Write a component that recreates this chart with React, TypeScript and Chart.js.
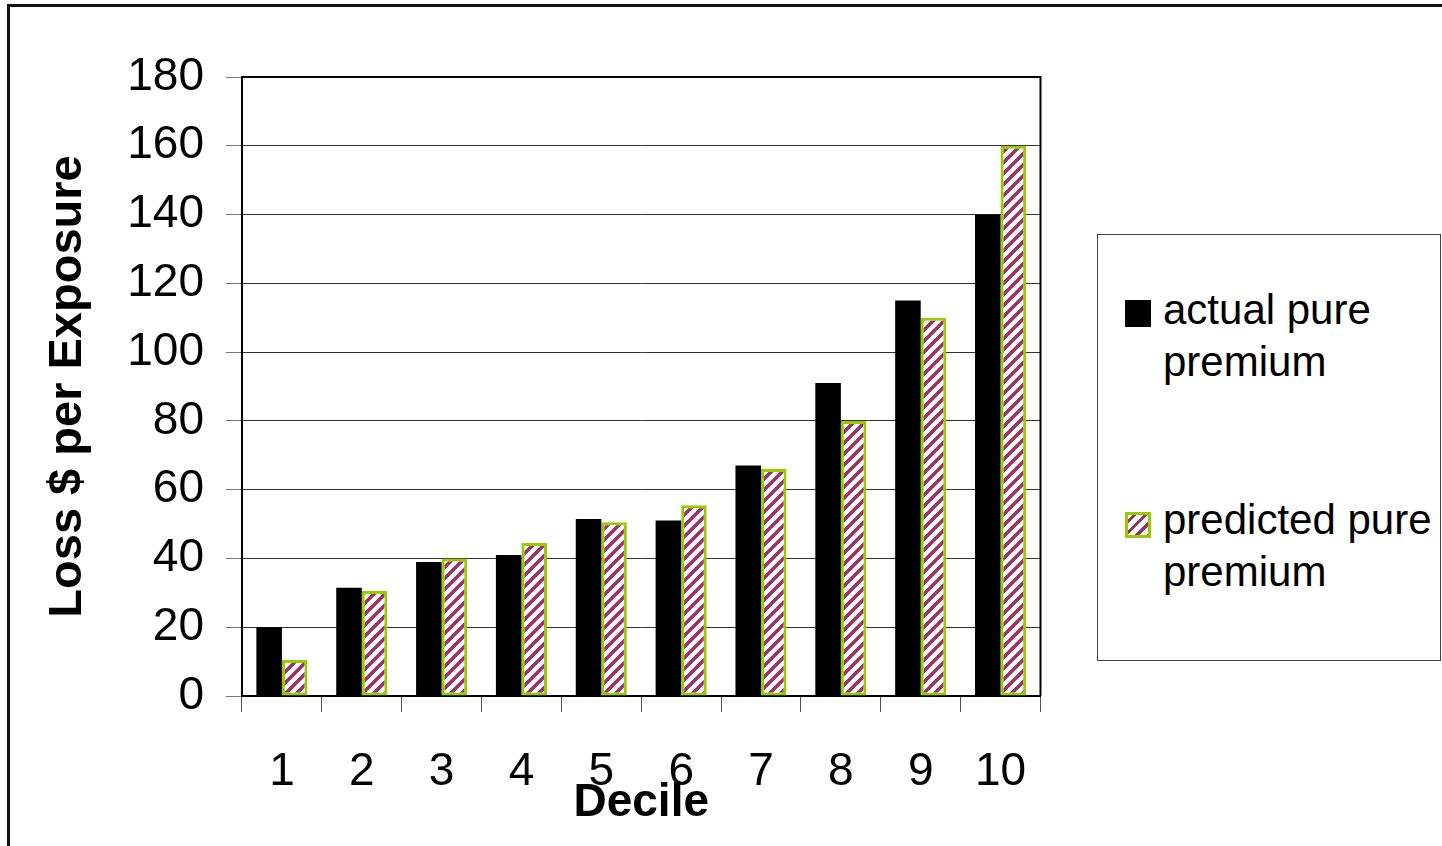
import React, { useEffect, useRef } from "react";
import { Chart, registerables } from "chart.js";

Chart.register(...registerables);

// Pure premium by decile of predicted loss
const deciles = ["1", "2", "3", "4", "5", "6", "7", "8", "9", "10"];
const actualPurePremium = [20, 31.5, 39, 41, 51.5, 51, 67, 91, 115, 140];
const predictedPurePremium = [10.5, 30.5, 40, 44.5, 50.5, 55.5, 66, 80, 110, 160];
const seriesLabels = [
  ["actual pure", "premium"],
  ["predicted pure", "premium"],
];
const yMin = 0;
const yMax = 180;
const yStep = 20;

const FONT = "'Liberation Sans', Arial, Helvetica, sans-serif";
const STRIPE = "#993366";
const GREEN = "#99CC00";

function makeStripePattern(ctx: CanvasRenderingContext2D): CanvasPattern | string {
  const size = 11;
  const tile = document.createElement("canvas");
  tile.width = size;
  tile.height = size;
  const g = tile.getContext("2d");
  if (!g) return STRIPE;
  g.fillStyle = "#ffffff";
  g.fillRect(0, 0, size, size);
  g.strokeStyle = STRIPE;
  g.lineWidth = 3.6;
  g.beginPath();
  g.moveTo(-3, size + 3);
  g.lineTo(size + 3, -3);
  g.moveTo(-4, 4);
  g.lineTo(4, -4);
  g.moveTo(size - 4, size + 4);
  g.lineTo(size + 4, size - 4);
  g.stroke();
  return ctx.createPattern(tile, "repeat") || STRIPE;
}

// Top and right edges of the plot area
const plotFrame = {
  id: "plotFrame",
  afterDraw(chart: any) {
    const { ctx, chartArea } = chart;
    const { left, top, right, bottom } = chartArea;
    ctx.save();
    ctx.strokeStyle = "#000";
    ctx.lineWidth = 2;
    ctx.beginPath();
    ctx.moveTo(left, top);
    ctx.lineTo(right, top);
    ctx.lineTo(right, bottom);
    ctx.stroke();
    ctx.restore();
  },
};

export default function App() {
  const ref = useRef<HTMLCanvasElement>(null);

  useEffect(() => {
    const canvas = ref.current;
    if (!canvas) return;
    const ctx = canvas.getContext("2d");
    if (!ctx) return;
    const stripes = makeStripePattern(ctx);

    const chart = new Chart(canvas, {
      type: "bar",
      data: {
        labels: deciles,
        datasets: [
          {
            label: seriesLabels[0].join(" "),
            data: actualPurePremium,
            backgroundColor: "#000000",
            borderWidth: 0,
          },
          {
            label: seriesLabels[1].join(" "),
            data: predictedPurePremium,
            backgroundColor: stripes as any,
            borderColor: GREEN,
            borderWidth: 3,
            borderSkipped: false,
          },
        ],
      },
      options: {
        responsive: false,
        devicePixelRatio: 1,
        animation: false,
        events: [],
        layout: { padding: { left: 40, top: 77, right: 17, bottom: 0 } },
        datasets: {
          bar: { categoryPercentage: 0.64, barPercentage: 1.0 },
        },
        plugins: {
          legend: { display: false },
          tooltip: { enabled: false },
        },
        scales: {
          x: {
            grid: {
              display: true,
              drawOnChartArea: false,
              drawTicks: true,
              tickLength: 16,
              offset: true,
              color: "#555",
              lineWidth: 1,
            },
            border: { display: true, color: "#000", width: 2 },
            ticks: {
              color: "#000",
              font: { family: FONT, size: 46 },
              padding: 33,
              autoSkip: false,
              maxRotation: 0,
            },
            title: {
              display: true,
              text: "Decile",
              color: "#000",
              font: { family: FONT, size: 46, weight: "bold" },
              padding: { top: 0, bottom: 15 },
            },
            afterFit: (s: any) => {
              s.height = 150;
            },
          },
          y: {
            min: yMin,
            max: yMax,
            grid: {
              color: "#333",
              lineWidth: 1,
              drawTicks: true,
              tickLength: 16,
              tickColor: "#777",
            },
            border: { display: true, color: "#000", width: 2 },
            ticks: {
              stepSize: yStep,
              color: "#000",
              font: { family: FONT, size: 46 },
              padding: 22,
            },
            title: {
              display: true,
              text: "Loss $ per Exposure",
              color: "#000",
              font: { family: FONT, size: 47, weight: "bold" },
              padding: { top: 0, bottom: 0 },
            },
            afterFit: (s: any) => {
              s.width = 202;
            },
          },
        },
      },
      plugins: [plotFrame],
    });

    return () => chart.destroy();
  }, []);

  const legendText: React.CSSProperties = {
    position: "absolute",
    left: 1163,
    fontFamily: FONT,
    fontSize: 42,
    lineHeight: "52px",
    color: "#000",
    whiteSpace: "nowrap",
  };

  return (
    <div
      style={{
        position: "absolute",
        left: 0,
        top: 0,
        width: 1442,
        height: 846,
        overflow: "hidden",
        background: "#fff",
      }}
    >
      <div
        style={{
          position: "absolute",
          left: 7,
          top: 4,
          width: 1600,
          height: 1000,
          border: "3px solid #111",
          boxSizing: "border-box",
        }}
      />
      <canvas
        ref={ref}
        width={1060}
        height={846}
        style={{ position: "absolute", left: 0, top: 0, width: 1060, height: 846 }}
      />
      <div
        style={{
          position: "absolute",
          left: 1097,
          top: 234,
          width: 344,
          height: 427,
          border: "1px solid #444",
          boxSizing: "border-box",
          background: "#fff",
        }}
      />
      <div
        style={{
          position: "absolute",
          left: 1125,
          top: 300,
          width: 26,
          height: 27,
          background: "#000",
        }}
      />
      <div style={{ ...legendText, top: 284 }}>
        {seriesLabels[0][0]}
        <br />
        {seriesLabels[0][1]}
      </div>
      <div
        style={{
          position: "absolute",
          left: 1125,
          top: 512,
          width: 26,
          height: 26,
          boxSizing: "border-box",
          border: `3px solid ${GREEN}`,
          background: `repeating-linear-gradient(135deg, #fff 0px, #fff 3px, ${STRIPE} 3px, ${STRIPE} 6px, #fff 6px, #fff 8px)`,
        }}
      />
      <div style={{ ...legendText, top: 494 }}>
        {seriesLabels[1][0]}
        <br />
        {seriesLabels[1][1]}
      </div>
    </div>
  );
}
